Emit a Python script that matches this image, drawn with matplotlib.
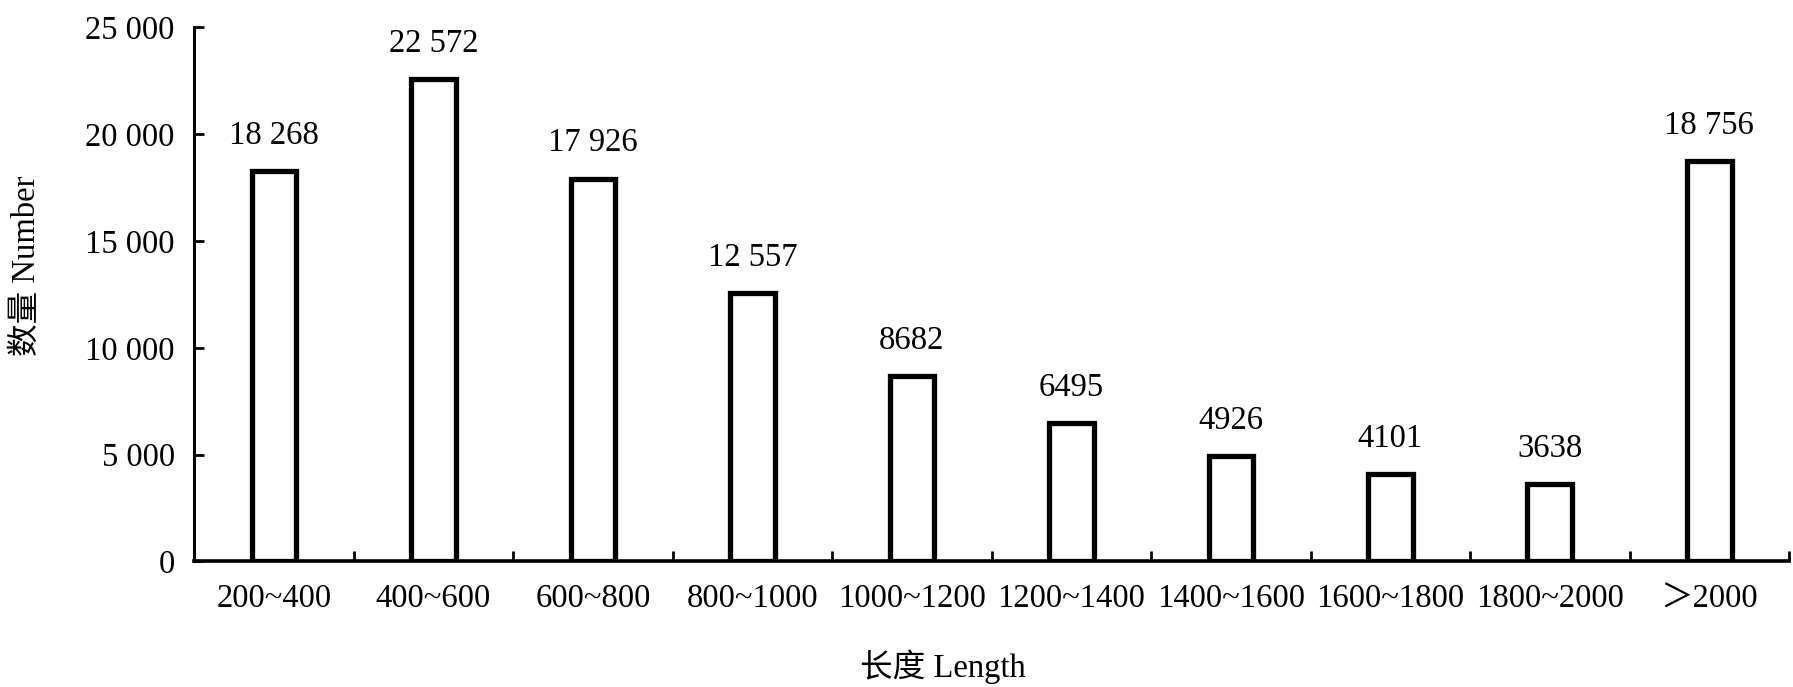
import numpy as np
import matplotlib
matplotlib.use("Agg")
import matplotlib.pyplot as plt
from matplotlib.ticker import FuncFormatter, FixedLocator

# ----------------------------
# Data
# ----------------------------

categories = ["200~400", "400~600", "600~800", "800~1000", "1000~1200",
              "1200~1400", "1400~1600", "1600~1800", "1800~2000", "\uff1e2000"]
counts = [18268, 22572, 17926, 12557, 8682, 6495, 4926, 4101, 3638, 18756]

y_ticks = [0, 5000, 10000, 15000, 20000, 25000]

x_title = "长度 Length"
y_title = "数量 Number"

# ----------------------------
# Style
# ----------------------------

plt.rcParams['font.family'] = ['Liberation Serif', 'Noto Sans CJK SC']
fs = 23.5


def fmt_num(v):
    v = int(v)
    if v >= 10000:
        return f"{v:,}".replace(",", " ")
    return str(v)


def fmt_tick(v, pos=None):
    v = int(v)
    if v >= 1000:
        return f"{v:,}".replace(",", " ")
    return str(v)


# ----------------------------
# Plot
# ----------------------------

fig = plt.figure(figsize=(17.93, 6.87), dpi=100)
ax = fig.add_axes([0.1083, 0.1827, 0.8895, 0.7773])

x = np.arange(len(categories))

ax.bar(x, counts, width=0.28, facecolor="white", edgecolor="black",
       linewidth=3.8, zorder=3)

for xi, v in zip(x, counts):
    ax.annotate(fmt_num(v), (xi, v), xytext=(0, 19.5), textcoords="offset points",
                ha="center", va="baseline", fontsize=fs)

ax.set_xlim(-0.5, len(categories) - 0.5)
ax.set_ylim(0, 25000)

ax.set_yticks(y_ticks)
ax.yaxis.set_major_formatter(FuncFormatter(fmt_tick))

ax.set_xticks(x)
ax.set_xticklabels(categories)
ax.xaxis.set_minor_locator(FixedLocator(np.arange(-0.5, len(categories), 1.0)))

ax.tick_params(axis="x", which="major", length=0, pad=16, labelsize=fs)
ax.tick_params(axis="x", which="minor", direction="in", length=7.5, width=2.0)
ax.tick_params(axis="y", which="major", direction="in", length=7.5, width=2.0,
               pad=14, labelsize=fs)

for side in ["top", "right"]:
    ax.spines[side].set_visible(False)
ax.spines["left"].set_linewidth(2.2)
ax.spines["bottom"].set_linewidth(2.6)

ax.set_xlabel(x_title, fontsize=fs)
ax.set_ylabel(y_title, fontsize=fs)
ax.xaxis.set_label_coords(0.4696, -0.165)
ax.yaxis.set_label_coords(-0.0953, 0.553)

plt.savefig("out.png", dpi=100)
